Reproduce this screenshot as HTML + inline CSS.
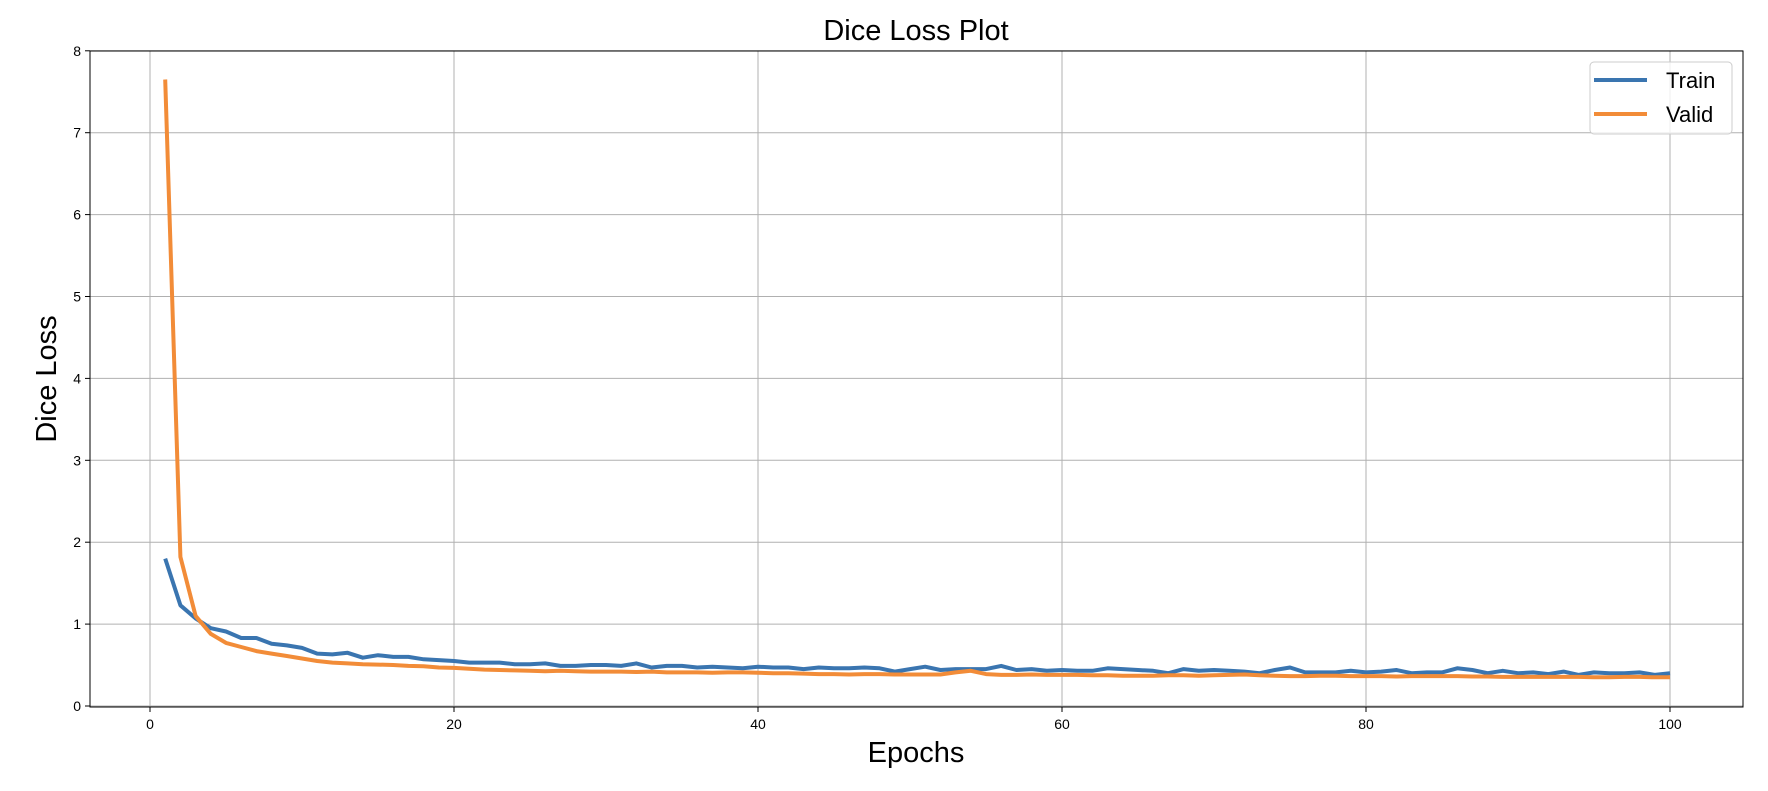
<!DOCTYPE html>
<html><head><meta charset="utf-8"><style>
html,body{margin:0;padding:0;background:#fff;}
svg text{font-family:"Liberation Sans","DejaVu Sans",sans-serif;}
</style></head><body>
<svg id="chart" width="1768" height="786" xmlns="http://www.w3.org/2000/svg">
<rect width="1768" height="786" fill="#fff"/>
<g id="grid"></g>
<g id="series"></g>
<rect x="90" y="51" width="1653" height="656" fill="none" stroke="#000" stroke-width="1"/>
<g id="ticks"></g>
<text x="916" y="40" font-size="29" text-anchor="middle">Dice Loss Plot</text>
<text x="916" y="762" font-size="29" text-anchor="middle">Epochs</text>
<text x="0" y="0" font-size="29" text-anchor="middle" transform="translate(56,379) rotate(-90)">Dice Loss</text>
<g>
<rect x="1590" y="62" width="142" height="72" rx="4" fill="#fff" fill-opacity="0.8" stroke="#ccc"/>
<line x1="1594" y1="80" x2="1647" y2="80" stroke="#3a75b0" stroke-width="4"/>
<text x="1666" y="88" font-size="22">Train</text>
<line x1="1594" y1="114" x2="1647" y2="114" stroke="#f28c38" stroke-width="4"/>
<text x="1666" y="122" font-size="22">Valid</text>
</g>
</svg>
<script>
const xTicks=[0,20,40,60,80,100];
const yTicks=[0,1,2,3,4,5,6,7,8];
const train=[1.8,1.23,1.07,0.95,0.91,0.83,0.83,0.76,0.74,0.71,0.64,0.63,0.65,0.59,0.62,0.6,0.6,0.57,0.56,0.55,0.53,0.53,0.53,0.51,0.51,0.52,0.49,0.49,0.5,0.5,0.49,0.52,0.47,0.49,0.49,0.47,0.48,0.47,0.46,0.48,0.47,0.47,0.45,0.47,0.46,0.46,0.47,0.46,0.42,0.45,0.48,0.44,0.45,0.45,0.45,0.49,0.44,0.45,0.43,0.44,0.43,0.43,0.46,0.45,0.44,0.43,0.4,0.45,0.43,0.44,0.43,0.42,0.4,0.44,0.47,0.41,0.41,0.41,0.43,0.41,0.42,0.44,0.4,0.41,0.41,0.46,0.44,0.4,0.43,0.4,0.41,0.39,0.42,0.38,0.41,0.4,0.4,0.41,0.38,0.4];
const valid=[7.65,1.82,1.1,0.88,0.77,0.72,0.67,0.64,0.61,0.58,0.55,0.53,0.52,0.51,0.505,0.5,0.49,0.485,0.47,0.465,0.455,0.445,0.44,0.435,0.43,0.425,0.43,0.425,0.42,0.42,0.42,0.415,0.42,0.41,0.41,0.41,0.405,0.41,0.41,0.405,0.4,0.4,0.395,0.39,0.39,0.385,0.39,0.39,0.385,0.385,0.385,0.385,0.41,0.43,0.39,0.38,0.38,0.385,0.38,0.38,0.38,0.375,0.375,0.37,0.37,0.37,0.375,0.375,0.37,0.375,0.38,0.385,0.375,0.37,0.365,0.365,0.37,0.37,0.365,0.365,0.365,0.36,0.365,0.365,0.365,0.365,0.36,0.36,0.355,0.355,0.355,0.355,0.355,0.355,0.35,0.35,0.355,0.355,0.35,0.35];
const NS='http://www.w3.org/2000/svg';
const X=v=>150+v*15.2;
const Y=v=>706-v*81.9;
const grid=document.getElementById('grid'),ticks=document.getElementById('ticks'),series=document.getElementById('series');
function mk(tag,attrs,parent){const e=document.createElementNS(NS,tag);for(const k in attrs)e.setAttribute(k,attrs[k]);parent.appendChild(e);return e;}
xTicks.forEach(t=>{
  const g=mk('line',{x1:X(t),x2:X(t),y1:51,y2:707,stroke:'#b0b0b0','stroke-width':1},grid);
  
  
  const tk=mk('line',{x1:X(t),x2:X(t),y1:707,y2:712,stroke:'#000'},ticks);
  
  
  const tx=mk('text',{x:X(t),y:729,'font-size':14,'text-anchor':'middle'},ticks);
  tx.textContent=t;
  
  
});
yTicks.forEach(t=>{
  const g=mk('line',{x1:90,x2:1743,y1:Y(t),y2:Y(t),stroke:'#b0b0b0','stroke-width':1},grid);
  
  
  const tk=mk('line',{x1:85,x2:90,y1:Y(t),y2:Y(t),stroke:'#000'},ticks);
  
  
  const tx=mk('text',{x:81,y:Y(t)+5,'font-size':14,'text-anchor':'end'},ticks);
  tx.textContent=t;
  
  
});
function line(data,color,name){
  const d=data.map((v,i)=>(i?'L':'M')+X(i+1).toFixed(1)+','+Y(v).toFixed(1)).join('');
  const p=mk('path',{d:d,fill:'none',stroke:color,'stroke-width':4,'stroke-linejoin':'round'},series);
  
  
}
line(train,'#3a75b0','train-line');
line(valid,'#f28c38','valid-line');
</script>
</body></html>
